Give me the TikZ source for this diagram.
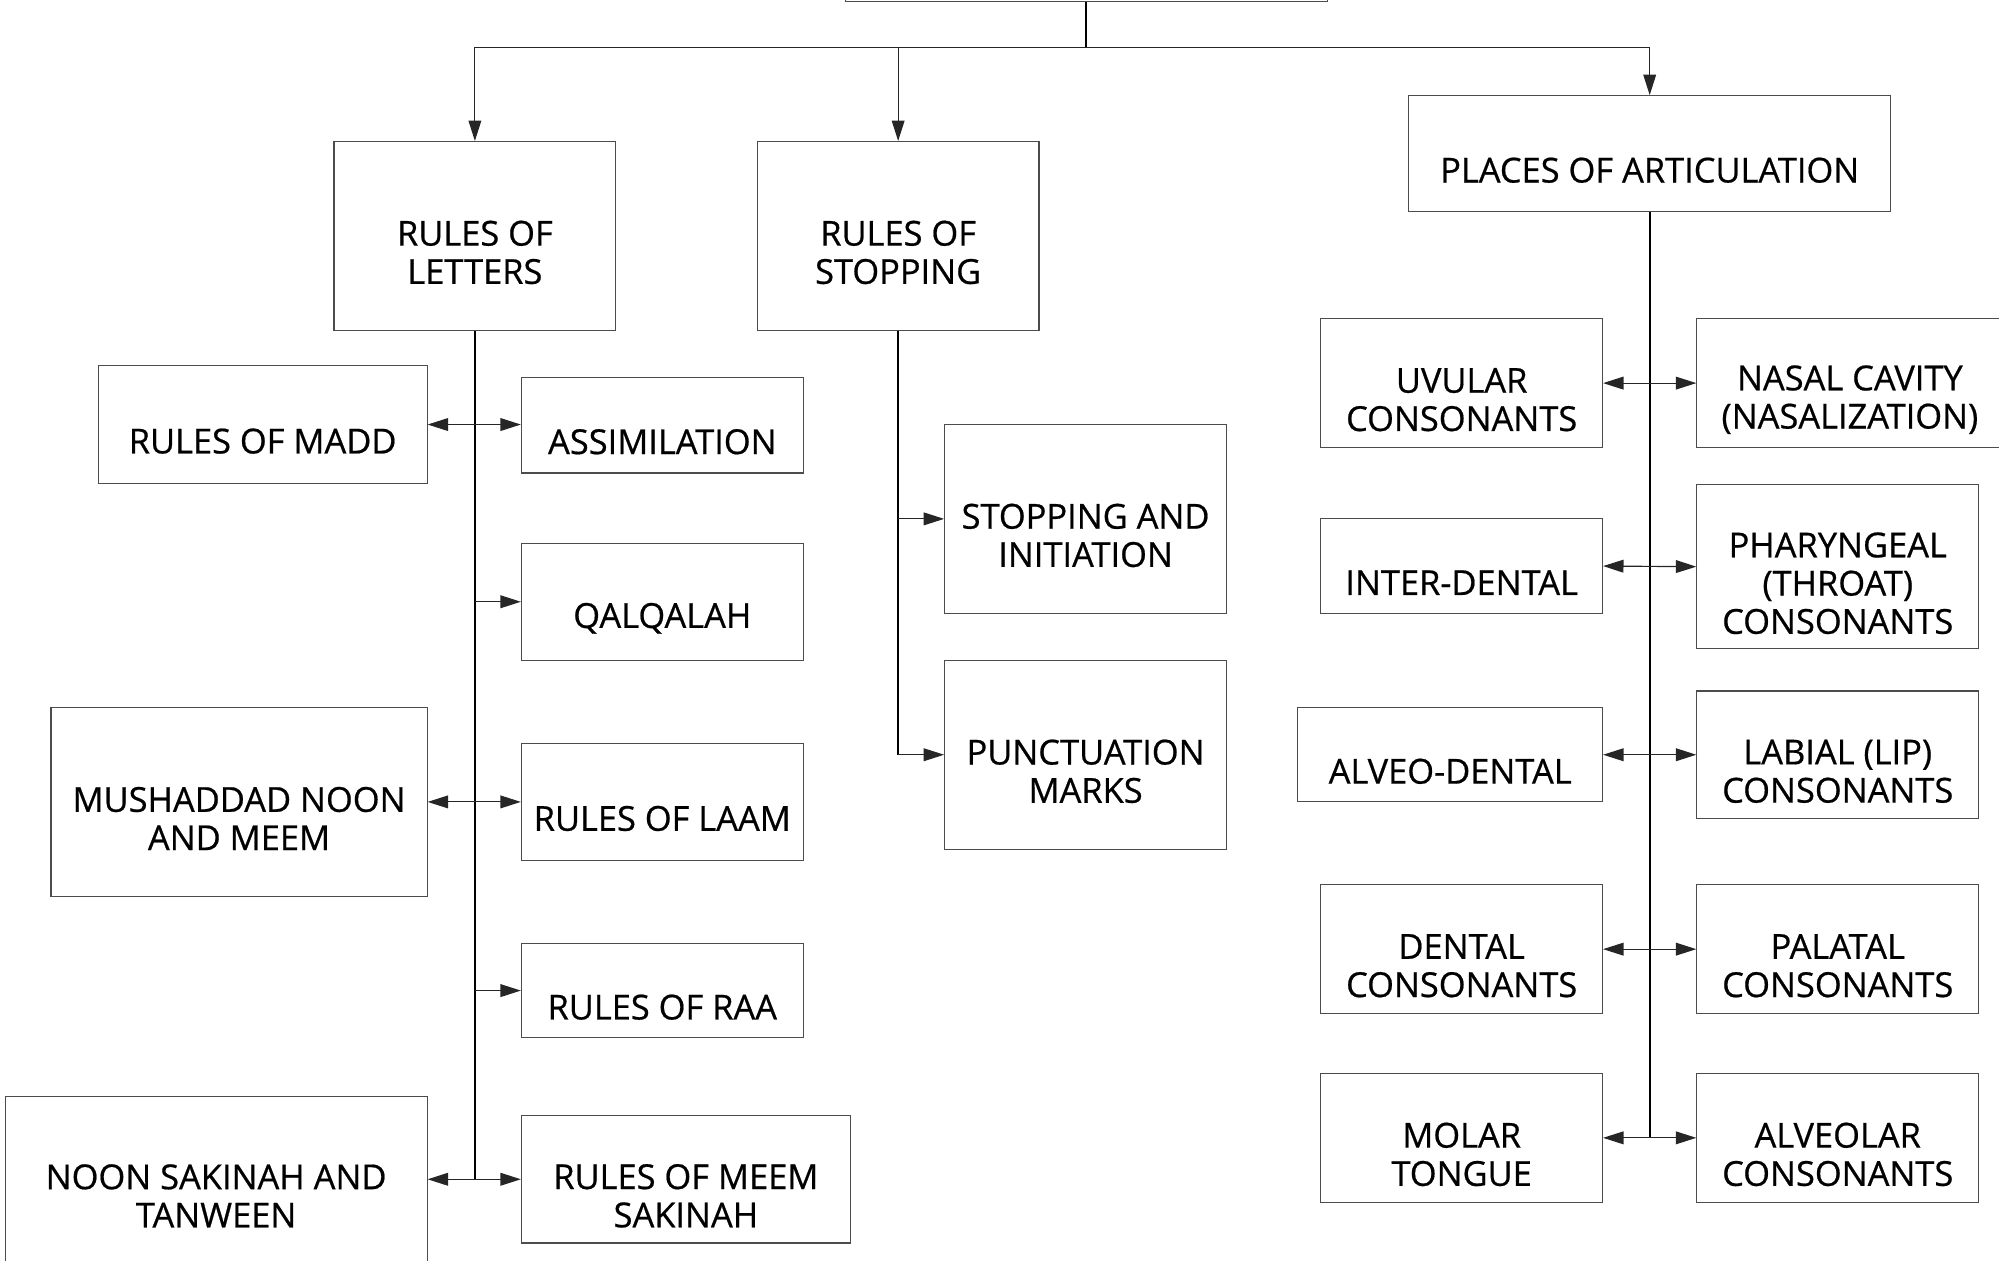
\documentclass[tikz,border=0pt]{standalone}
\usepackage{fontspec}
\setmainfont{Open Sans}
\newfontfamily\chartfont{Open Sans}[FakeBold=0.6]
\usetikzlibrary{arrows.meta}

\newcommand\labelfont{\chartfont\fontsize{27}{30}\selectfont}
% \chartbox{name}{x1}{y1}{x2}{y2}{text}: a framed box with its text set a little low
\newcommand\chartbox[6]{%
  \node[box, minimum width={(#4)-(#2)}, minimum height={(#5)-(#3)}]
    (#1) at ({((#2)+(#4))/2},{((#3)+(#5))/2}) {};
  \node[lbl] (#1-t) at ([yshift=-13pt]#1.center) {#6};
}

\tikzset{
  box/.style={draw=black!70, line width=0.9pt, rectangle, inner sep=0pt, fill=white},
  lbl/.style={align=center, font=\labelfont, inner sep=0pt, text=black},
  trunk/.style={line width=1.5pt, black},
  tip/.tip={Triangle[length=16pt,width=10pt]},
  link/.style={line width=0.9pt, black!85},
  branch/.style={link, -tip},
  twoway/.style={link, tip-tip},
}

\begin{document}
\begin{tikzpicture}[x=1pt, y=-1pt]
  \useasboundingbox (0,0) rectangle (1568,989);
  \clip (0,0) rectangle (1568,989);

  % top of the tree
  \node[box, minimum width=378, minimum height=80] (root) at (852,-39) {};
  \coordinate (bus) at (852,37);

  % first level
  \chartbox{letters}{262}{111}{483}{259}{RULES OF\\LETTERS}
  \chartbox{stopping}{594}{111}{815}{259}{RULES OF\\STOPPING}
  \chartbox{places}{1105}{75}{1483}{166}{PLACES OF ARTICULATION}

  % rules of letters
  \chartbox{madd}{77}{287}{335}{379}{RULES OF MADD}
  \chartbox{assim}{409}{296}{630}{371}{ASSIMILATION}
  \chartbox{qalq}{409}{426}{630}{518}{QALQALAH}
  \chartbox{mush}{40}{555}{335}{703}{MUSHADDAD NOON\\AND MEEM}
  \chartbox{laam}{409}{583}{630}{675}{RULES OF LAAM}
  \chartbox{raa}{409}{740}{630}{814}{RULES OF RAA}
  \chartbox{noon}{4}{860}{335}{990}{NOON SAKINAH AND\\TANWEEN}
  \chartbox{meem}{409}{875}{667}{975}{RULES OF MEEM\\SAKINAH}

  % rules of stopping
  \chartbox{stopinit}{741}{333}{962}{481}{STOPPING AND\\INITIATION}
  \chartbox{punct}{741}{518}{962}{666}{PUNCTUATION\\MARKS}

  % places of articulation
  \chartbox{uvular}{1036}{250}{1257}{351}{UVULAR\\CONSONANTS}
  \chartbox{nasal}{1331}{250}{1571}{351}{NASAL CAVITY\\(NASALIZATION)}
  \chartbox{inter}{1036}{407}{1257}{481}{INTER-DENTAL}
  \chartbox{phar}{1331}{380}{1552}{509}{PHARYNGEAL\\(THROAT)\\CONSONANTS}
  \chartbox{alveod}{1018}{555}{1257}{629}{ALVEO-DENTAL}
  \chartbox{labial}{1331}{542}{1552}{642}{LABIAL (LIP)\\CONSONANTS}
  \chartbox{dental}{1036}{694}{1257}{795}{DENTAL\\CONSONANTS}
  \chartbox{palatal}{1331}{694}{1552}{795}{PALATAL\\CONSONANTS}
  \chartbox{molar}{1036}{842}{1257}{943}{MOLAR\\TONGUE}
  \chartbox{alveolar}{1331}{842}{1552}{943}{ALVEOLAR\\CONSONANTS}

  % root to first level
  \draw[trunk] (root.south) -- (bus);
  \draw[link] (letters.north |- bus) -- (places.north |- bus);
  \draw[branch] (letters.north |- bus) -- (letters.north);
  \draw[branch] (stopping.north |- bus) -- (stopping.north);
  \draw[branch] (places.north |- bus) -- (places.north);

  % rules of letters
  \draw[trunk] (letters.south) -- (letters.south |- noon.east);
  \draw[twoway] (madd.east) -- (madd.east -| assim.west);
  \draw[branch] (qalq.west -| letters.south) -- (qalq.west);
  \draw[twoway] (mush.east) -- (mush.east -| laam.west);
  \draw[branch] (raa.west -| letters.south) -- (raa.west);
  \draw[twoway] (noon.east) -- (meem.west);

  % rules of stopping
  \draw[trunk] (stopping.south) -- (stopping.south |- punct.west);
  \draw[branch] (stopinit.west -| stopping.south) -- (stopinit.west);
  \draw[branch] (punct.west -| stopping.south) -- (punct.west);

  % places of articulation
  \draw[trunk] (places.south) -- (places.south |- molar.east);
  \draw[twoway] (uvular.east) -- (nasal.west);
  \draw[twoway] (inter.east) -- (phar.west);
  \draw[twoway] (alveod.east) -- (labial.west);
  \draw[twoway] (dental.east) -- (palatal.west);
  \draw[twoway] (molar.east) -- (alveolar.west);
\end{tikzpicture}
\end{document}
